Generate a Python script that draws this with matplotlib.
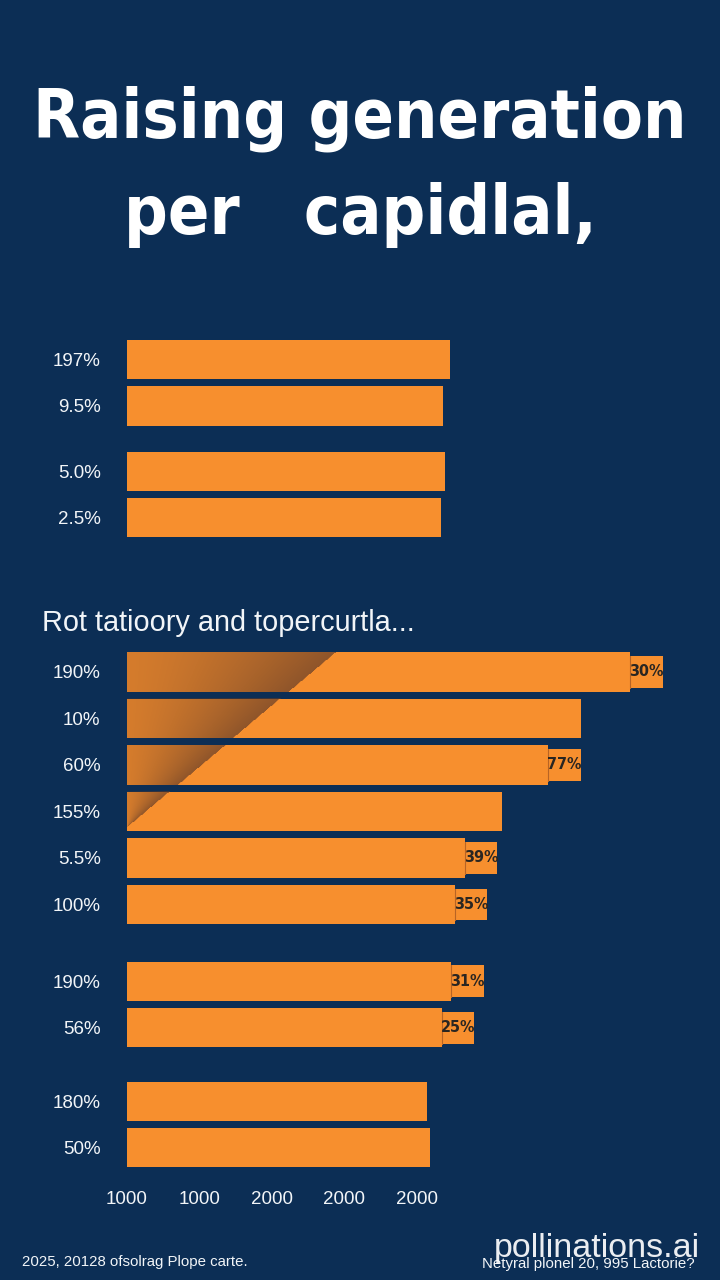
import numpy as np
import matplotlib.pyplot as plt
from matplotlib import font_manager as fm
from matplotlib.patches import Rectangle

BG = "#0c2e55"
ORANGE = "#f78f2e"
WHITE = "#f2f5f8"

# --- data -------------------------------------------------------------
title_lines = ["Raising generation", "per   capidlal,"]
subtitle = "Rot tatioory and topercurtla..."

top_labels = ["197%", "9.5%", "5.0%", "2.5%"]
top_values = [4.46, 4.36, 4.39, 4.33]

mid_labels = ["190%", "10%", "60%", "155%", "5.5%", "100%"]
mid_values = [6.94, 6.26, 5.81, 5.17, 4.66, 4.52]
mid_tags = ["30%", None, "77%", None, "39%", "35%"]

low_labels = ["190%", "56%", "180%", "50%"]
low_values = [4.47, 4.34, 4.14, 4.18]
low_tags = ["31%", "25%", None, None]

x_ticks = ["1000", "1000", "2000", "2000", "2000"]

footer_left = "2025, 20128 ofsolrag Plope carte."
footer_right = "Netyral plonel 20, 995 Lactorie?"
watermark = "pollinations.ai"

# --- layout (rows of 46.5 px, extra gaps in rows) ---------------------
group_sizes = [2, 2, 6, 2, 2]
group_gaps = [0, 0.40, 2.32, 0.65, 0.58]
ypos = []
y = 0.0
for size, gap in zip(group_sizes, group_gaps):
    y += gap
    for i in range(size):
        ypos.append(y)
        y += 1
ypos = np.array(ypos)

labels = top_labels + mid_labels + low_labels
values = top_values + mid_values + low_values
tags = [None] * 4 + mid_tags + low_tags

plt.rcParams['font.family'] = ['Liberation Sans', 'DejaVu Sans']


def pick_condensed():
    # look for a bold condensed / narrow face, else plain bold
    found = []
    for f in fm.fontManager.ttflist:
        n = f.fname.lower()
        narrow = ('condensed' in n or 'narrow' in n or
                  f.stretch in ('condensed', 'semi-condensed', 'extra-condensed'))
        w = f.weight if isinstance(f.weight, int) else 700
        if narrow and w >= 600:
            found.append(f.fname)
    if found:
        return fm.FontProperties(fname=sorted(found)[0])
    return fm.FontProperties(family='Liberation Sans', weight='bold')


title_fp = pick_condensed()

fig = plt.figure(figsize=(7.2, 12.8), dpi=100, facecolor=BG)

# title, sized to the reference width
t1 = fig.text(0.5, 1 - 138 / 1280, title_lines[0], ha='center', va='baseline',
              color='white', fontproperties=title_fp, fontsize=60)
fig.canvas.draw()
w = t1.get_window_extent().width
fs = 60 * 655 / w
t1.set_fontsize(fs)
fig.text(0.5, 1 - 234 / 1280, title_lines[1], ha='center', va='baseline',
         color='white', fontproperties=title_fp, fontsize=fs)

fig.text(42 / 720, 1 - 623 / 1280, subtitle, ha='left', va='center',
         color=WHITE, fontsize=20.8)

# bar axes: left edge at x=127px, 1 unit = 72.5px, 1 row = 46.5px
px_top, px_bot = 330, 1178
ax = fig.add_axes([127 / 720, 1 - px_bot / 1280, 593 / 720, (px_bot - px_top) / 1280])
ax.set_facecolor(BG)
y_top = -(359.5 - px_top) / 46.5
y_bot = (px_bot - 359.5) / 46.5
ax.set_xlim(0, 593 / 72.5)
ax.set_ylim(y_bot, y_top)

h = 0.84
ax.barh(ypos, values, height=h, color=ORANGE, edgecolor='none', zorder=2)

# value tags at the end of bars
tag_fp = title_fp.copy()
tag_fp.set_size(11.5)
for yy, v, t in zip(ypos, values, tags):
    if t is None:
        continue
    ax.add_patch(Rectangle((v, yy - 0.34), 0.45, 0.68, facecolor=ORANGE,
                           edgecolor='none', zorder=3))
    ax.plot([v, v], [yy - 0.34, yy + 0.34], color='#b86424', lw=0.8, zorder=4)
    ax.text(v + 0.225, yy, t, ha='center', va='center', fontproperties=tag_fp,
            color='#2a2622', zorder=5)

# dark diagonal shade over the first middle bars
tri_top = ypos[4] - h / 2
tri_bot = ypos[7] + h / 2 - 0.08
tri_x = 2.87
for k in range(4, 8):
    yb, yt = ypos[k] - h / 2, ypos[k] + h / 2
    xs = np.linspace(0, tri_x, 200)
    ys = np.linspace(yb, yt, 40)
    X, Y = np.meshgrid(xs, ys)
    xd = tri_x * (tri_bot - Y) / (tri_bot - tri_top)
    tt = np.clip(X / np.maximum(xd, 1e-6), 0, 1)
    img = np.zeros(X.shape + (4,))
    img[..., 0] = 0.36
    img[..., 1] = 0.22
    img[..., 2] = 0.16
    img[..., 3] = np.where(X <= xd, 0.22 + 0.45 * tt ** 1.3, 0)
    ax.imshow(img, extent=[0, tri_x, yt, yb], origin='upper', aspect='auto',
              interpolation='bilinear', zorder=3)
ax.set_xlim(0, 593 / 72.5)
ax.set_ylim(y_bot, y_top)

ax.set_yticks(ypos)
ax.set_yticklabels(labels)
ax.set_xticks(range(len(x_ticks)))
ax.set_xticklabels(x_ticks)
ax.tick_params(axis='y', length=0, pad=19, labelsize=13.5, labelcolor=WHITE)
ax.tick_params(axis='x', length=0, pad=9, labelsize=13.5, labelcolor=WHITE)
for s in ax.spines.values():
    s.set_visible(False)

# footer
fig.text(22 / 720, 1 - 1262 / 1280, footer_left, ha='left', va='center',
         color=WHITE, fontsize=10.8)
fig.text(695 / 720, 1 - 1264 / 1280, footer_right, ha='right', va='center',
         color=WHITE, fontsize=10.8)
fig.text(700 / 720, 1 - 1248 / 1280, watermark, ha='right', va='center',
         color='white', fontsize=24.5, alpha=0.92)

fig.savefig("out.png", dpi=100, facecolor=BG)
